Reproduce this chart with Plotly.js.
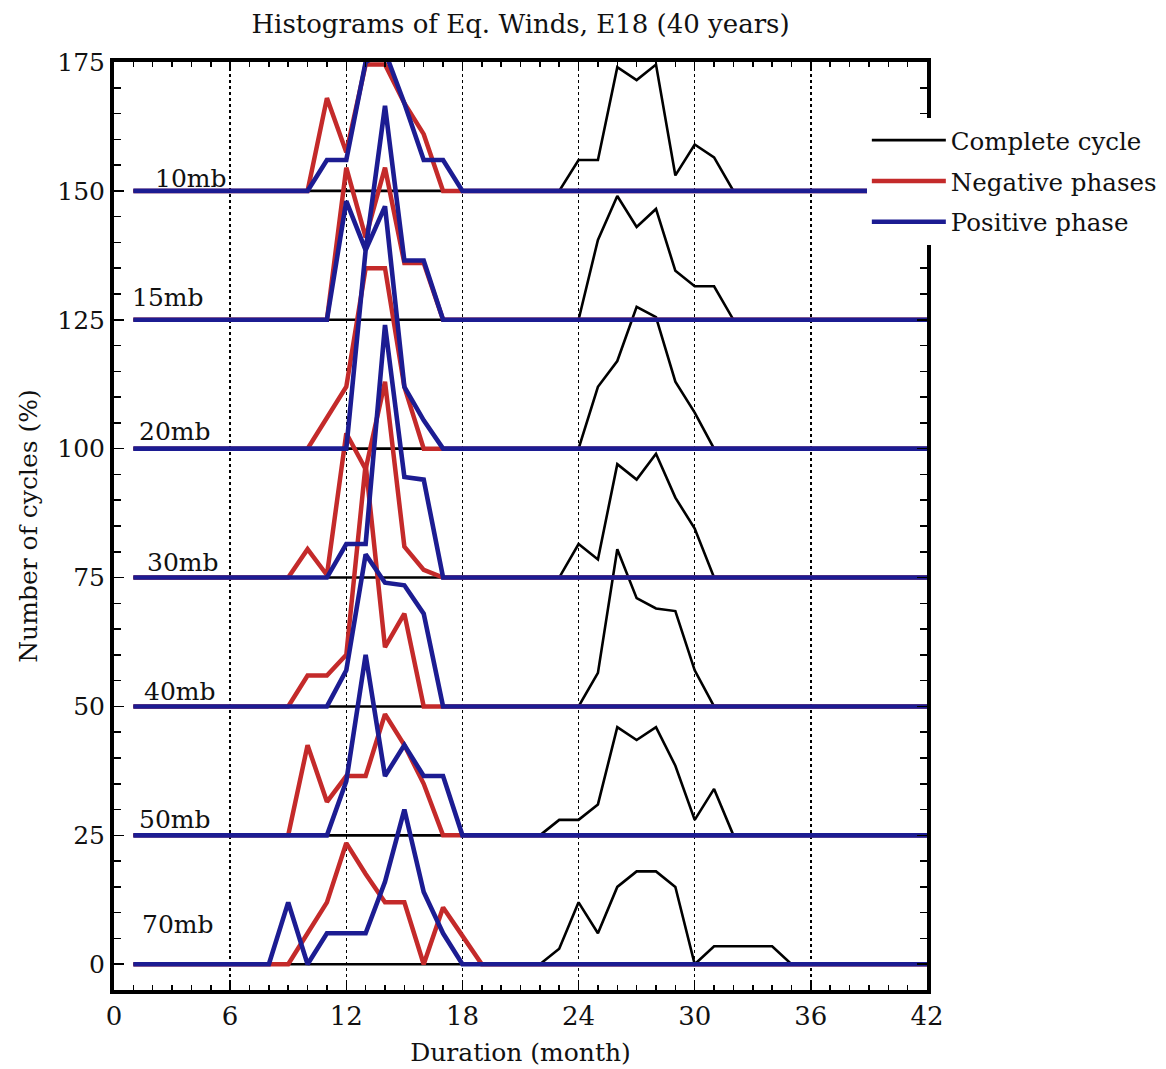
<!DOCTYPE html>
<html><head><meta charset="utf-8">
<script src="https://cdn.plot.ly/plotly-3.0.1.min.js"></script>
<style>html,body{margin:0;padding:0;background:#fff}#chart{width:1166px;height:1069px}</style>
</head><body><div id="chart"></div>
<script>
// Months 1..42
const months = [1,2,3,4,5,6,7,8,9,10,11,12,13,14,15,16,17,18,19,20,21,
  22,23,24,25,26,27,28,29,30,31,32,33,34,35,36,37,38,39,40,41,42];
const levels  = ['10mb','15mb','20mb','30mb','40mb','50mb','70mb'];
const offsets = [150,125,100,75,50,25,0];
const labelX  = [2.0,0.85,1.2,1.6,1.45,1.2,1.35];
const labelY  = [152.5,129.3,103.3,77.9,52.9,28.1,7.8];
const xTicks = [0,6,12,18,24,30,36,42];
const yTicks = [0,25,50,75,100,125,150,175];

// Complete cycle (%), months 1..42
const cyc10 = [0,0,0,0,0,0, 0,0,0,0,0,0, 0,0,0,0,0,0, 0,0,0,0,0,6, 6,24,21.5,24.5,3,9, 6.5,0,0,0,0,0, 0,0,0,0,0,0];
const cyc15 = [0,0,0,0,0,0, 0,0,0,0,0,0, 0,0,0,0,0,0, 0,0,0,0,0,0, 15.5,24,18,21.5,9.5,6.5, 6.5,0,0,0,0,0, 0,0,0,0,0,0];
const cyc20 = [0,0,0,0,0,0, 0,0,0,0,0,0, 0,0,0,0,0,0, 0,0,0,0,0,0, 12,17,27.5,25.5,13,7, 0,0,0,0,0,0, 0,0,0,0,0,0];
const cyc30 = [0,0,0,0,0,0, 0,0,0,0,0,0, 0,0,0,0,0,0, 0,0,0,0,0,6.5, 3.5,22,19,24,15.5,9.5, 0,0,0,0,0,0, 0,0,0,0,0,0];
const cyc40 = [0,0,0,0,0,0, 0,0,0,0,0,0, 0,0,0,0,0,0, 0,0,0,0,0,0, 6.5,30.5,21,19,18.5,7, 0,0,0,0,0,0, 0,0,0,0,0,0];
const cyc50 = [0,0,0,0,0,0, 0,0,0,0,0,0, 0,0,0,0,0,0, 0,0,0,0,3,3, 6,21,18.5,21,13.5,3, 9,0,0,0,0,0, 0,0,0,0,0,0];
const cyc70 = [0,0,0,0,0,0, 0,0,0,0,0,0, 0,0,0,0,0,0, 0,0,0,0,3,12, 6,15,18,18,15,0, 3.5,3.5,3.5,3.5,0,0, 0,0,0,0,0,0];

// Negative phases (%)
const neg10 = [0,0,0,0,0,0, 0,0,0,0,18,7.5, 24.5,24.5,17,11,0,0, 0,0,0,0,0,0, 0,0,0,0,0,0, 0,0,0,0,0,0, 0,0,0,0,0,0];
const neg15 = [0,0,0,0,0,0, 0,0,0,0,0,29.5, 16,29.5,11,11,0,0, 0,0,0,0,0,0, 0,0,0,0,0,0, 0,0,0,0,0,0, 0,0,0,0,0,0];
const neg20 = [0,0,0,0,0,0, 0,0,0,0,6,12, 35,35,12,0,0,0, 0,0,0,0,0,0, 0,0,0,0,0,0, 0,0,0,0,0,0, 0,0,0,0,0,0];
const neg30 = [0,0,0,0,0,0, 0,0,0,5.5,0.5,28, 21,38,6,1.5,0,0, 0,0,0,0,0,0, 0,0,0,0,0,0, 0,0,0,0,0,0, 0,0,0,0,0,0];
const neg40 = [0,0,0,0,0,0, 0,0,0,6,6,10, 47,11.5,18,0,0,0, 0,0,0,0,0,0, 0,0,0,0,0,0, 0,0,0,0,0,0, 0,0,0,0,0,0];
const neg50 = [0,0,0,0,0,0, 0,0,0,17.5,6.5,11.5, 11.5,23.5,17.5,10,0,0, 0,0,0,0,0,0, 0,0,0,0,0,0, 0,0,0,0,0,0, 0,0,0,0,0,0];
const neg70 = [0,0,0,0,0,0, 0,0,0,6,12,23.5, 17.5,12,12,0,11,5.5, 0,0,0,0,0,0, 0,0,0,0,0,0, 0,0,0,0,0,0, 0,0,0,0,0,0];

// Positive phase (%)
const pos10 = [0,0,0,0,0,0, 0,0,0,0,6,6, 25,27,17,6,6,0, 0,0,0,0,0,0, 0,0,0,0,0,0, 0,0,0,0,0,0, 0,0,0,0,0,0];
const pos15 = [0,0,0,0,0,0, 0,0,0,0,0,23, 13.5,41.5,11.5,11.5,0,0, 0,0,0,0,0,0, 0,0,0,0,0,0, 0,0,0,0,0,0, 0,0,0,0,0,0];
const pos20 = [0,0,0,0,0,0, 0,0,0,0,0,0, 38.5,47,12,5.5,0,0, 0,0,0,0,0,0, 0,0,0,0,0,0, 0,0,0,0,0,0, 0,0,0,0,0,0];
const pos30 = [0,0,0,0,0,0, 0,0,0,0,0,6.5, 6.5,49,19.5,19,0,0, 0,0,0,0,0,0, 0,0,0,0,0,0, 0,0,0,0,0,0, 0,0,0,0,0,0];
const pos40 = [0,0,0,0,0,0, 0,0,0,0,0,7, 29.5,24,23.5,18,0,0, 0,0,0,0,0,0, 0,0,0,0,0,0, 0,0,0,0,0,0, 0,0,0,0,0,0];
const pos50 = [0,0,0,0,0,0, 0,0,0,0,0,10.5, 35,11.5,17.5,11.5,11.5,0, 0,0,0,0,0,0, 0,0,0,0,0,0, 0,0,0,0,0,0, 0,0,0,0,0,0];
const pos70 = [0,0,0,0,0,0, 0,0,12,0,6,6, 6,16,30,14,6,0, 0,0,0,0,0,0, 0,0,0,0,0,0, 0,0,0,0,0,0, 0,0,0,0,0,0];

const complete = [cyc10,cyc15,cyc20,cyc30,cyc40,cyc50,cyc70];
const negative = [neg10,neg15,neg20,neg30,neg40,neg50,neg70];
const positive = [pos10,pos15,pos20,pos30,pos40,pos50,pos70];

const FONT = 'DejaVu Serif, Liberation Serif, serif';
const BLACK = '#000000', RED = '#c42a2a', BLUE = '#1c1c92';

function series(arr, name, group, color, width) {
  return arr.map((vals, i) => ({
    type: 'scatter', mode: 'lines',
    x: months, y: vals.map(v => v + offsets[i]),
    name: name, legendgroup: group, showlegend: i === 0,
    line: {color: color, width: width},
    hoverinfo: 'skip'
  }));
}
const traces = [].concat(
  series(complete, 'Complete cycle', 'c', BLACK, 2.6),
  series(negative, 'Negative phases', 'n', RED, 4.5),
  series(positive, 'Positive phase', 'p', BLUE, 4.6)
);

const annotations = levels.map((lv, i) => ({
  text: lv, x: labelX[i], y: labelY[i], xref: 'x', yref: 'y',
  xanchor: 'left', yanchor: 'middle', showarrow: false,
  font: {family: FONT, size: 25, color: '#111'}
}));

const layout = {
  width: 1166, height: 1069,
  margin: {l: 114, r: 239, t: 62, b: 79, autoexpand: false},
  paper_bgcolor: '#fff', plot_bgcolor: '#fff',
  font: {family: FONT, color: '#111'},
  title: {text: 'Histograms of Eq. Winds, E18 (40 years)', font: {family: FONT, size: 26, color: '#111'},
          x: 0.5, xref: 'paper', xanchor: 'center', y: 0.978, yref: 'container', yanchor: 'middle'},
  xaxis: {
    range: [0, 42], tickvals: xTicks, ticktext: xTicks.map(String),
    ticks: 'inside', ticklen: 8, tickwidth: 1.5, tickcolor: '#000',
    minor: {dtick: 1, tick0: 0, ticks: 'inside', ticklen: 5, tickwidth: 1.5, tickcolor: '#000', showgrid: false},
    showline: true, linewidth: 4, linecolor: '#000', mirror: 'allticks',
    showgrid: true, griddash: 'dot', gridcolor: '#000', gridwidth: 1.5,
    zeroline: false, tickfont: {family: FONT, size: 26, color: '#111'},
    title: {text: 'Duration (month)', font: {family: FONT, size: 25, color: '#111'}, standoff: 14}
  },
  yaxis: {
    range: [-5, 175], tickvals: yTicks, ticktext: yTicks.map(String),
    ticks: 'inside', ticklen: 10, tickwidth: 1.5, tickcolor: '#000',
    minor: {dtick: 5, tick0: 0, ticks: 'inside', ticklen: 7, tickwidth: 1.5, tickcolor: '#000', showgrid: false},
    showline: true, linewidth: 4, linecolor: '#000', mirror: 'allticks',
    showgrid: false, zeroline: false, tickfont: {family: FONT, size: 25, color: '#111'},
    title: {text: 'Number of cycles (%)', font: {family: FONT, size: 25, color: '#111'}, standoff: 14}
  },
  legend: {
    x: 0.926, xanchor: 'left', y: 0.94, yanchor: 'top',
    bgcolor: '#fff', borderwidth: 0,
    font: {family: FONT, size: 24.5, color: '#111'},
    traceorder: 'grouped', tracegroupgap: 6, itemwidth: 74
  },
  annotations: annotations,
  showlegend: true
};

Plotly.newPlot('chart', traces, layout, {displayModeBar: false, staticPlot: true});
</script>
</body></html>
